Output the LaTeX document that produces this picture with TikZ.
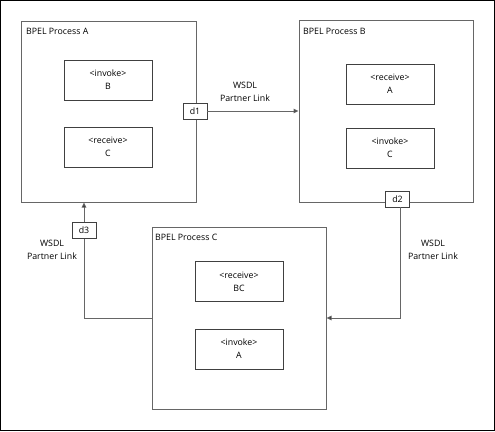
\documentclass[tikz,border=0pt]{standalone}
\usepackage{fontspec}
\setmainfont{Open Sans}
\usetikzlibrary{arrows.meta,positioning}
\definecolor{linegray}{HTML}{666666}
\tikzset{
  proc/.style={draw=linegray, line width=1pt, fill=white, inner sep=0pt},
  act/.style={draw=black!75, line width=0.8pt, fill=white, inner sep=0pt, minimum width=88pt, minimum height=40pt, align=center, font=\fontsize{8.8}{13}\selectfont},
  port/.style={draw=black!75, line width=0.8pt, fill=white, inner sep=0pt, minimum width=24pt, minimum height=16pt, font=\fontsize{8.8}{10}\selectfont},
  conn/.style={draw=linegray, line width=1pt},
  arr/.style={conn, -{Triangle[length=5pt,width=4.5pt,fill=black]}},
  lbl/.style={align=center, font=\fontsize{8.8}{13}\selectfont, inner sep=0pt},
  ttl/.style={anchor=west, font=\fontsize{8.8}{10}\selectfont, inner sep=0pt}
}
\begin{document}
\begin{tikzpicture}[x=1pt,y=-1pt]
\useasboundingbox (0,0) rectangle (495,431);
\draw[line width=1.2pt, black] (0.6,0.6) rectangle (494.4,430.4);
% process boxes
\node[proc, minimum width=175pt, minimum height=181pt] (A) at (108.5,111.5) {};
\node[proc, minimum width=174pt, minimum height=182pt] (B) at (386,111) {};
\node[proc, minimum width=174pt, minimum height=182pt] (C) at (239,318) {};
\node[ttl] (tA) at (26,31) {BPEL Process A};
\node[ttl] (tB) at (303,31) {BPEL Process B};
\node[ttl] (tC) at (155,237) {BPEL Process C};
% activities
\node[act] (AB) at (108,80) {<invoke>\\B};
\node[act] (AC) at (108,147) {<receive>\\C};
\node[act] (BA) at (390,84) {<receive>\\A};
\node[act] (BC) at (390,148) {<invoke>\\C};
\node[act] (CB) at (239,281.5) {<receive>\\BC};
\node[act] (CA) at (239,349) {<invoke>\\A};
% ports
\node[port] (d1) at (195,111) {d1};
\node[port] (d2) at (397.5,199) {d2};
\node[port] (d3) at (84,230.5) {d3};
% connectors
\draw[arr] (d1.east) -- (d1.east -| B.west);
\draw[arr] (d2.south -| 400,0) |- (C.east);
\draw[conn] (C.west) -| (d3.south);
\draw[arr] (d3.north) -- (d3.north |- A.south);
% labels
\node[lbl] (l1) at (245,91.5) {WSDL\\Partner Link};
\node[lbl] (l2) at (433,249.5) {WSDL\\Partner Link};
\node[lbl] (l3) at (52,249.5) {WSDL\\Partner Link};
\end{tikzpicture}
\end{document}
